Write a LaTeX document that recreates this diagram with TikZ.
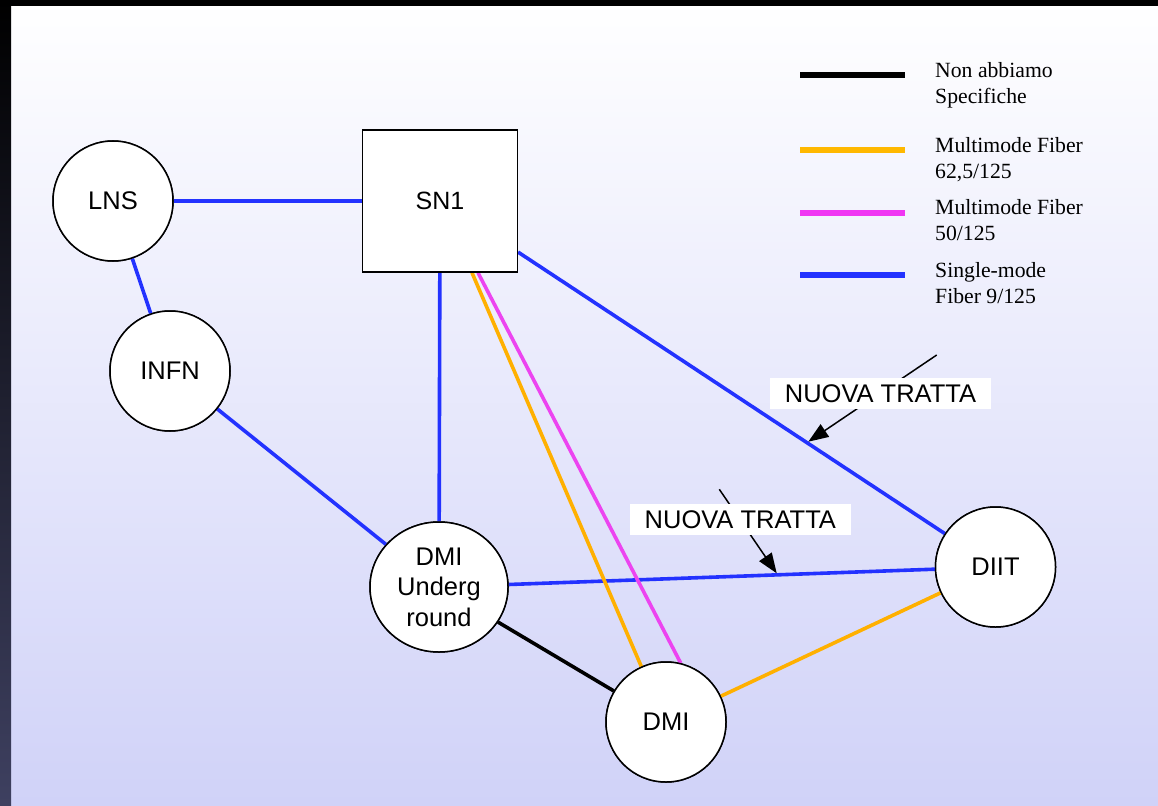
\documentclass[tikz,border=0pt]{standalone}
\usepackage{fontspec}
\setmainfont{Liberation Serif}
\setsansfont{Liberation Sans}
\usetikzlibrary{shapes.geometric,arrows.meta}
\definecolor{fblue}{RGB}{35,50,255}
\definecolor{forange}{RGB}{255,176,0}
\definecolor{fmag}{RGB}{236,68,240}
\definecolor{bgbot}{RGB}{208,210,248}
\definecolor{barbot}{RGB}{62,64,96}
\begin{document}
\begin{tikzpicture}[x=1pt,y=-1pt,
  site/.style={circle,draw=black,line width=1.5pt,fill=white,minimum size=120pt,inner sep=0pt,
    font=\sffamily\fontsize{25.5}{30.5}\selectfont,align=center},
  ovalsite/.style={site,ellipse,minimum width=138pt,minimum height=130pt},
  boxsite/.style={rectangle,draw=black,line width=1.5pt,fill=white,minimum width=154.6pt,minimum height=142pt,inner sep=0pt,
    font=\sffamily\fontsize{25}{30}\selectfont},
  link/.style={line width=3.6pt},
  legline/.style={line width=6pt},
  legtext/.style={anchor=base west,inner sep=0pt,font=\fontsize{21.7}{26}\selectfont},
  tag/.style={rectangle,fill=white,minimum width=221pt,minimum height=31pt,inner sep=0pt,
    font=\sffamily\fontsize{25.5}{30}\selectfont},
  pointer/.style={line width=1.5pt,-{Triangle[length=20pt,width=15pt]}}
]
\useasboundingbox (0,0) rectangle (1158,805);
% background
\shade[top color=white,bottom color=bgbot] (0,0) rectangle (1158,805);
\shade[top color=black,bottom color=barbot] (0,0) rectangle (11,805);
\fill[black] (0,0) rectangle (1158,6);

% nodes (placed to name them)
\node[site] (LNS) at (113,201) {LNS};
\node[site] (INFN) at (170,371) {INFN};
\node[boxsite] (SN1) at (440,201) {SN1};
\node[ovalsite] (DMIU) at (439,587) {DMI\\Underg\\round};
\node[site] (DMI) at (666,722) {DMI};
\node[site] (DIIT) at (995.5,567) {DIIT};

% connectors
\draw[link,fblue] (LNS) -- (SN1);
\draw[link,fblue] (LNS) -- (INFN);
\draw[link,fblue] (INFN) -- (DMIU);
\draw[link,fblue] (SN1) -- (DMIU);
\draw[link,fblue] (SN1) -- (DIIT);
\draw[link,fblue] (DMIU) -- (DIIT);
\draw[link,black] (DMIU) -- (DMI);
\draw[link,forange] (DMI) -- (DIIT);
\draw[link,forange] ([xshift=32pt]SN1.south) -- (DMI.114);
\draw[link,fmag] ([xshift=38pt]SN1.south) -- (DMI.76);

% nodes again on top of connector ends
\node[site] at (LNS) {LNS};
\node[site] at (INFN) {INFN};
\node[boxsite] at (SN1) {SN1};
\node[ovalsite] at (DMIU) {DMI\\Underg\\round};
\node[site] at (DMI) {DMI};
\node[site] at (DIIT) {DIIT};

% annotations
\coordinate (p1s) at (936.7,355);
\coordinate (p1e) at (808.3,441.7);
\coordinate (p2s) at (719.3,489.3);
\coordinate (p2e) at (776.7,573.3);
\draw[pointer] (p1s) -- (p1e);
\draw[pointer] (p2s) -- (p2e);
\node[tag] (t1) at (880.5,393.3) {NUOVA TRATTA};
\node[tag] (t2) at (740.3,519.3) {NUOVA TRATTA};

% legend
\draw[legline,black] (800,74.7) -- (905,74.7);
\draw[legline,forange!90!yellow] (800,150) -- (905,150);
\draw[legline,fmag!80!magenta] (800,212.7) -- (905,212.7);
\draw[legline,fblue] (800,275.3) -- (905,275.3);
\node[legtext] (l1) at (935,77.3) {\begin{tabular}[t]{@{}l@{}}Non abbiamo\\Specifiche\end{tabular}};
\node[legtext] (l2) at (935,152.3) {\begin{tabular}[t]{@{}l@{}}Multimode Fiber\\62,5/125\end{tabular}};
\node[legtext] (l3) at (935,214.6) {\begin{tabular}[t]{@{}l@{}}Multimode Fiber\\50/125\end{tabular}};
\node[legtext] (l4) at (935,277.3) {\begin{tabular}[t]{@{}l@{}}Single-mode\\Fiber 9/125\end{tabular}};
\end{tikzpicture}
\end{document}
